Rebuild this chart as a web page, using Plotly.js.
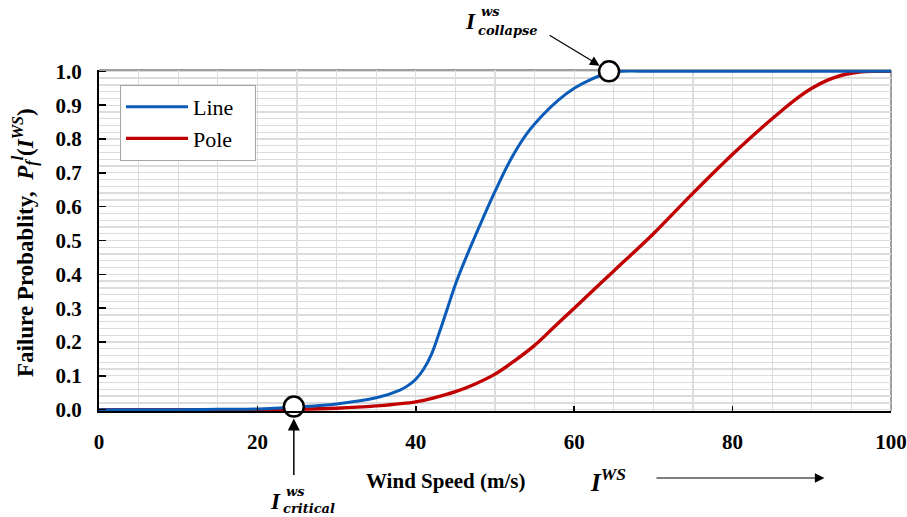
<!DOCTYPE html>
<html>
<head>
<meta charset="utf-8">
<script src="https://cdn.plot.ly/plotly-3.0.1.min.js"></script>
<style>html,body{margin:0;padding:0;background:#fff;}#chart{width:907px;height:517px;}</style>
</head>
<body>
<div id="chart"></div>
<script>
// Wind speed (m/s) and failure probabilities
var lineX = [0, 5, 10, 15, 20, 25, 30, 35, 38, 39, 40, 41, 42, 43, 44, 45, 46, 48, 50, 52, 54, 56, 58, 60, 62, 64, 66, 70, 80, 90, 100];
var lineY = [0, 0, 0, 0.001, 0.002, 0.008, 0.017, 0.035, 0.058, 0.071, 0.09, 0.12, 0.165, 0.23, 0.3, 0.37, 0.43, 0.54, 0.645, 0.74, 0.815, 0.87, 0.915, 0.95, 0.975, 0.993, 1.0, 1.0, 1.0, 1.0, 1.0];
var poleX = [0, 10, 20, 25, 30, 35, 40, 42.5, 45, 47.5, 50, 52.5, 55, 57.5, 60, 65, 70, 75, 80, 84, 86, 88, 90, 92, 94, 96, 98, 100];
var poleY = [0, 0, 0, 0.001, 0.004, 0.011, 0.023, 0.036, 0.053, 0.076, 0.105, 0.145, 0.19, 0.245, 0.3, 0.41, 0.52, 0.64, 0.755, 0.84, 0.88, 0.918, 0.95, 0.974, 0.99, 0.998, 1.0, 1.0];
var markX = [24.6, 64.4];   // I_critical, I_collapse
var markY = [0.009, 1.0];
var xTicks = [0, 20, 40, 60, 80, 100];
var yTicks = [0, 0.1, 0.2, 0.3, 0.4, 0.5, 0.6, 0.7, 0.8, 0.9, 1.0];

var serif = 'Liberation Serif, Times New Roman, serif';

var traces = [
  {x: poleX, y: poleY, name: 'Pole&nbsp;&nbsp;&nbsp;', mode: 'lines', legendrank: 2,
   line: {color: '#C00000', width: 3.4, shape: 'spline', smoothing: 1, simplify: false}},
  {x: lineX, y: lineY, name: 'Line&nbsp;&nbsp;&nbsp;', mode: 'lines', legendrank: 1,
   line: {color: '#0B5CB8', width: 3, shape: 'spline', smoothing: 1, simplify: false}},
  {x: markX, y: markY, mode: 'markers', showlegend: false, cliponaxis: false,
   marker: {size: 20, color: '#ffffff', line: {color: '#000000', width: 2.5}}}
];

var layout = {
  width: 907, height: 517,
  margin: {l: 99, r: 16, t: 70, b: 106},
  paper_bgcolor: '#ffffff', plot_bgcolor: '#ffffff',
  showlegend: true,
  legend: {x: 0.0265, y: 0.956, xanchor: 'left', yanchor: 'top',
    bgcolor: '#ffffff', bordercolor: '#a6a6a6', borderwidth: 1,
    font: {family: serif, size: 22, color: '#000'}, itemwidth: 62,
    tracegroupgap: 6, valign: 'middle'},
  xaxis: {range: [0, 100], tickvals: xTicks, ticks: 'inside', ticklen: 5, tickwidth: 1.5,
    tickcolor: '#000', showline: true, linecolor: '#000', linewidth: 2,
    showgrid: true, gridcolor: '#dcdcdc', gridwidth: 1.3,
    minor: {dtick: 5, showgrid: true, gridcolor: '#dcdcdc', gridwidth: 1.3, ticks: ''},
    tickfont: {family: serif, size: 21, color: '#000', weight: 'bold'},
    ticklabelstandoff: 11, zeroline: false, fixedrange: true},
  yaxis: {range: [-0.004, 1.004], tickvals: yTicks, tickformat: '.1f', ticks: 'inside', ticklen: 7, tickwidth: 1.5,
    tickcolor: '#000', showline: true, linecolor: '#000', linewidth: 2,
    showgrid: true, gridcolor: '#dcdcdc', gridwidth: 1.3,
    minor: {dtick: 0.02, tick0: 0, showgrid: true, gridcolor: '#dcdcdc', gridwidth: 1.3, ticks: ''},
    tickfont: {family: serif, size: 21, color: '#000', weight: 'bold'},
    ticklabelstandoff: 11, zeroline: false, fixedrange: true},
  shapes: [
    {type: 'line', xref: 'paper', yref: 'paper', x0: 0, x1: 1, y0: 1, y1: 1, line: {color: '#7f7f7f', width: 1.5}, layer: 'below'},
    {type: 'line', xref: 'paper', yref: 'paper', x0: 1, x1: 1, y0: 0, y1: 1, line: {color: '#7f7f7f', width: 1.5}, layer: 'below'}
  ],
  annotations: [
    // axis titles
    {xref: 'paper', yref: 'paper', x: (445 - 99) / 792, y: (411 - 481) / 341, showarrow: false,
     text: '<b>Wind Speed (m/s)</b>', font: {family: serif, size: 21, color: '#000'}, xanchor: 'center', yanchor: 'middle'},
    {xref: 'paper', yref: 'paper', x: (25 - 99) / 792, y: (411 - 243) / 341, showarrow: false, textangle: -90,
     text: '<b>Failure Probablity,  <i>P</i><sub><i>f</i></sub><sup><i>l</i></sup>(<i>I</i><sup><i>WS</i></sup>)</b>',
     font: {family: serif, size: 23, color: '#000'}, xanchor: 'center', yanchor: 'middle'},
    // I^WS arrow
    {xref: 'paper', yref: 'paper', x: (608 - 99) / 792, y: (411 - 480) / 341, showarrow: false,
     text: '<b><i>I</i></b><sup><b><i>WS</i></b></sup>', font: {family: serif, size: 25, color: '#000'}, xanchor: 'center', yanchor: 'middle'},
    {xref: 'x', yref: 'paper', x: 91.6, y: (411 - 478) / 341, axref: 'x', ax: 70.2, ayref: 'pixel', ay: 0,
     showarrow: true, arrowhead: 2, arrowsize: 1.6, arrowwidth: 1.2, arrowcolor: '#000', text: ''},
    // collapse arrow
    {xref: 'x', yref: 'y', x: markX[1], y: markY[1], ax: -61, ay: -37, showarrow: true, arrowhead: 2,
     arrowsize: 1.6, arrowwidth: 1.2, arrowcolor: '#000', standoff: 11, text: ''},
    // critical arrow
    {xref: 'x', yref: 'y', x: markX[0], y: markY[0], ax: 0, ay: 70, showarrow: true, arrowhead: 2,
     arrowsize: 1.6, arrowwidth: 1.5, arrowcolor: '#000', standoff: 12, text: ''},
    // collapse label
    {xref: 'paper', yref: 'paper', x: (470 - 99) / 792, y: (411 - 22) / 341, showarrow: false,
     text: '<b><i>I</i></b>', font: {family: serif, size: 23, color: '#000'}, xanchor: 'center', yanchor: 'middle'},
    {xref: 'paper', yref: 'paper', x: (479 - 99) / 792, y: (411 - 12) / 341, showarrow: false,
     text: '<b><i>ws</i></b>', font: {family: 'DejaVu Serif, serif', size: 13, color: '#000'}, xanchor: 'left', yanchor: 'middle'},
    {xref: 'paper', yref: 'paper', x: (476 - 99) / 792, y: (411 - 30) / 341, showarrow: false,
     text: '<b><i>collapse</i></b>', font: {family: 'DejaVu Serif, serif', size: 13, color: '#000'}, xanchor: 'left', yanchor: 'middle'},
    // critical label
    {xref: 'paper', yref: 'paper', x: (275 - 99) / 792, y: (411 - 501) / 341, showarrow: false,
     text: '<b><i>I</i></b>', font: {family: serif, size: 23, color: '#000'}, xanchor: 'center', yanchor: 'middle'},
    {xref: 'paper', yref: 'paper', x: (284 - 99) / 792, y: (411 - 491) / 341, showarrow: false,
     text: '<b><i>ws</i></b>', font: {family: 'DejaVu Serif, serif', size: 13, color: '#000'}, xanchor: 'left', yanchor: 'middle'},
    {xref: 'paper', yref: 'paper', x: (281 - 99) / 792, y: (411 - 508) / 341, showarrow: false,
     text: '<b><i>critical</i></b>', font: {family: 'DejaVu Serif, serif', size: 13, color: '#000'}, xanchor: 'left', yanchor: 'middle'}
  ]
};

Plotly.newPlot('chart', traces, layout, {displayModeBar: false, staticPlot: true});
</script>
</body>
</html>
